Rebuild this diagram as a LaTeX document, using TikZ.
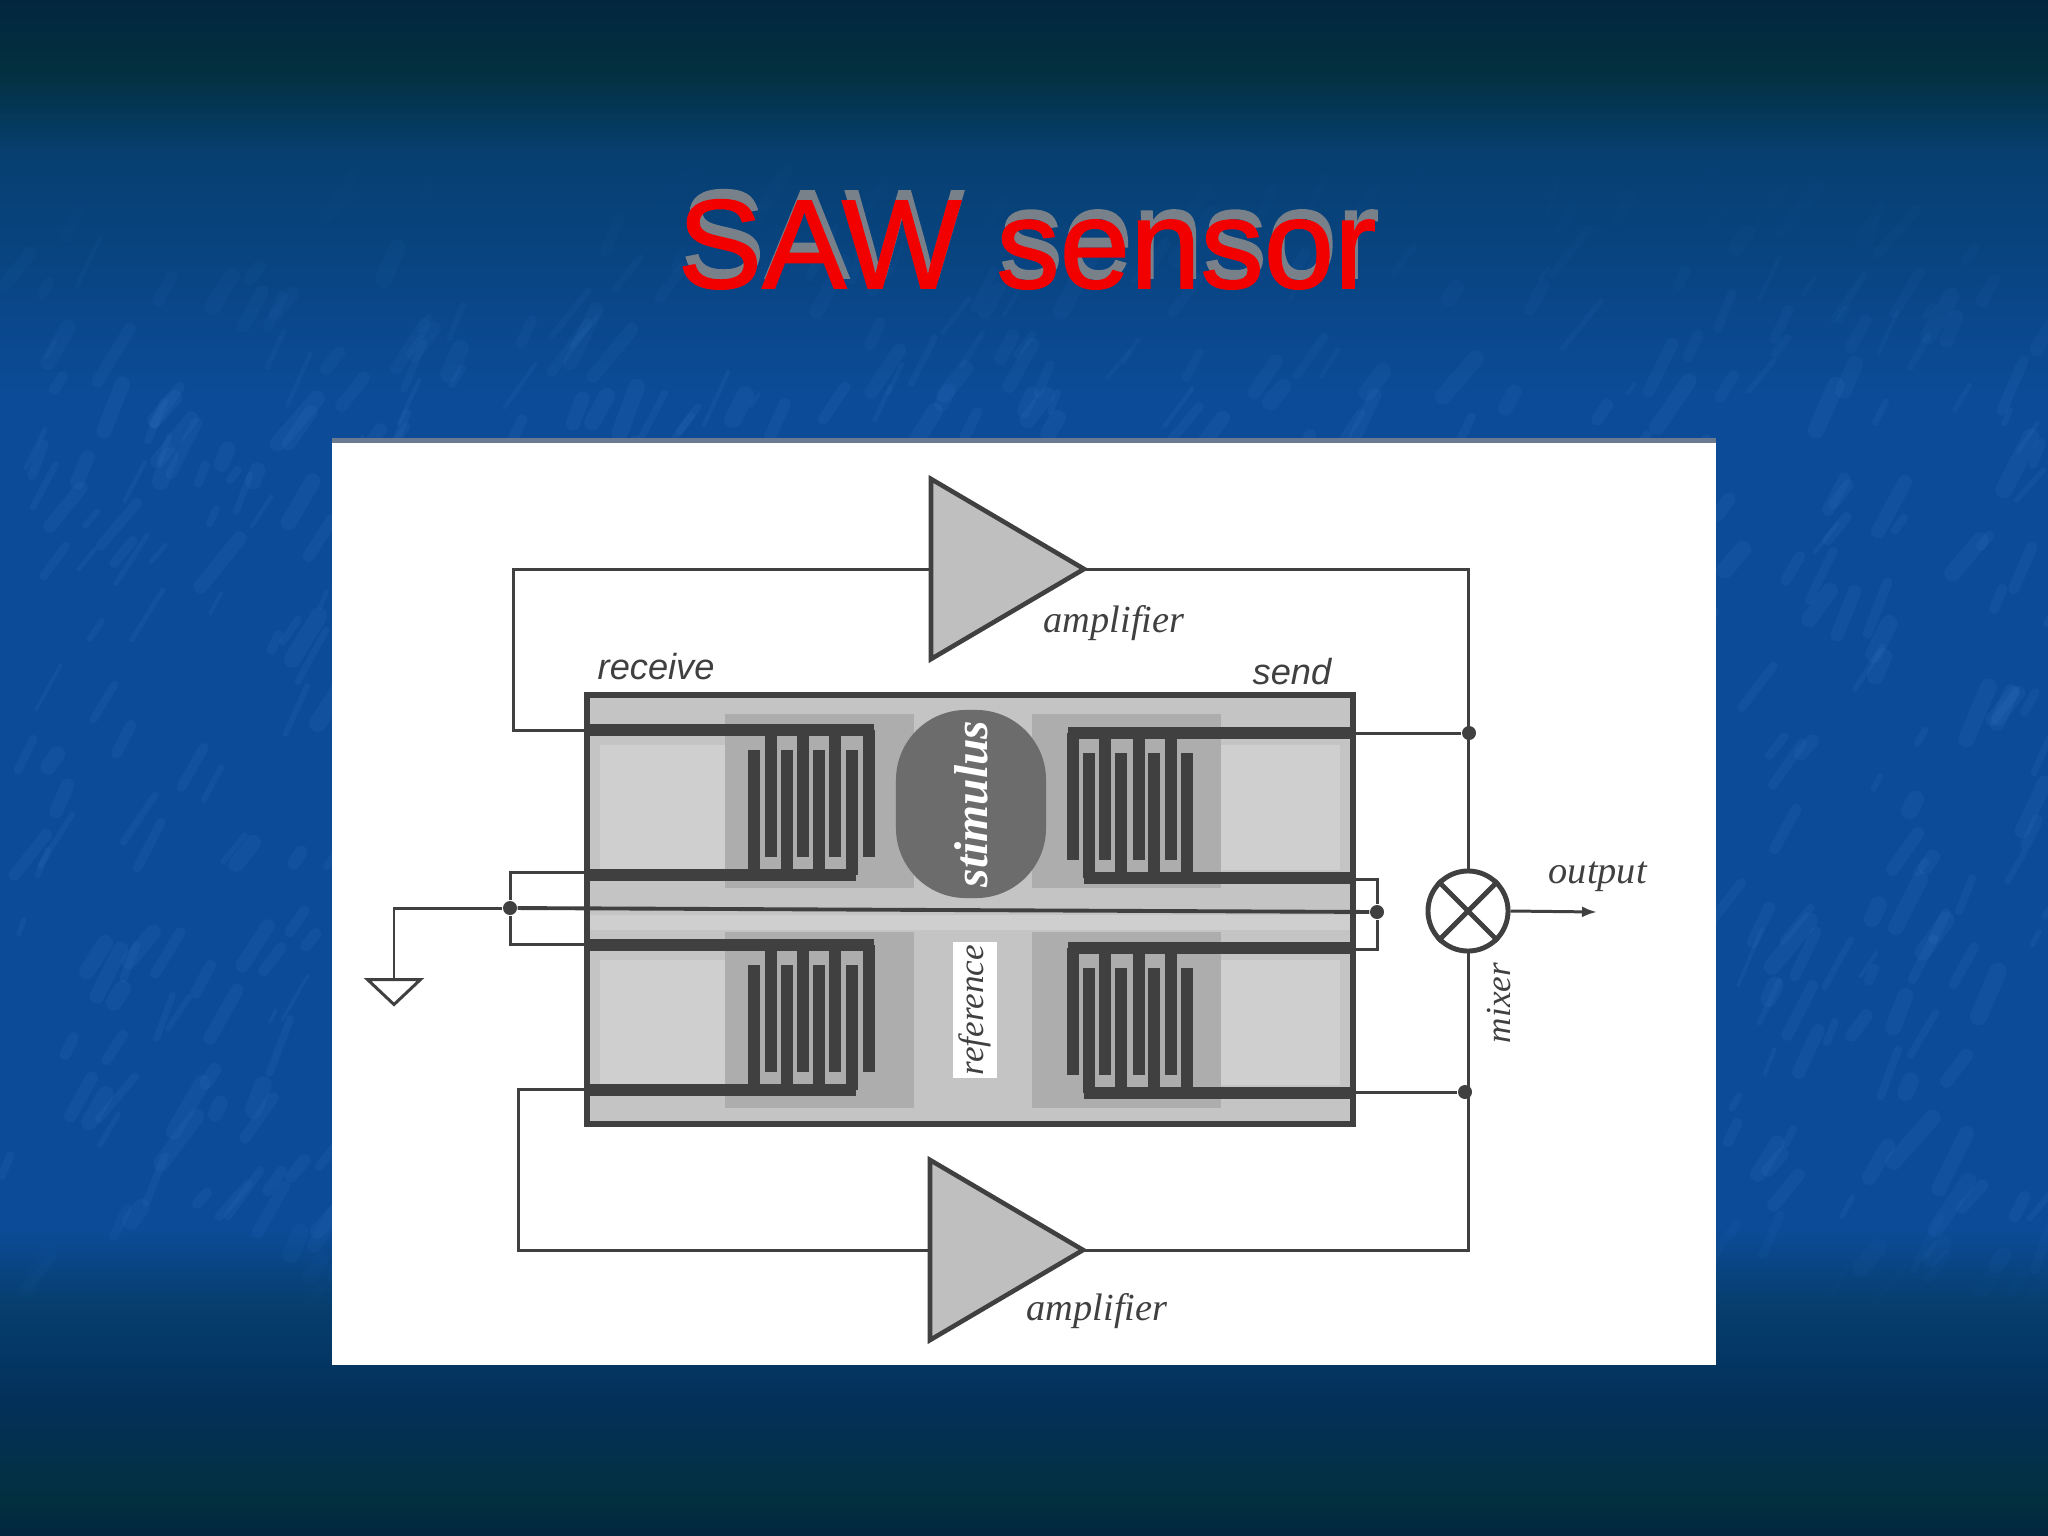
\documentclass[tikz,border=0pt]{standalone}
\usepackage{fontspec}
\setmainfont{Liberation Serif}
\setsansfont{Liberation Sans}
\newfontfamily\titlefont[FakeBold=1.2]{Liberation Sans}
\usetikzlibrary{calc,positioning,arrows.meta,shapes.geometric}

\definecolor{slidemid}{HTML}{0C4B98}
\definecolor{slidetop}{HTML}{02263F}
\definecolor{slideband}{HTML}{03303F}
\definecolor{slidedeep}{HTML}{063F70}
\definecolor{slidelow}{HTML}{03305A}
\definecolor{ink}{HTML}{404040}
\definecolor{chipgray}{HTML}{C4C4C4}
\definecolor{chiplight}{HTML}{CFCFCF}
\definecolor{padgray}{HTML}{ADADAD}
\definecolor{titleshade}{HTML}{78808A}
\definecolor{paneledge}{HTML}{6A7A90}
\definecolor{streak}{HTML}{4A8BD8}

\pgfdeclareverticalshading{slidebg}{100bp}{
  color(0bp)=(slidetop);
  color(25bp)=(slidetop);
  color(26.2bp)=(slideband);
  color(29.4bp)=(slidelow);
  color(32.7bp)=(slidedeep);
  color(35bp)=(slidemid);
  color(62bp)=(slidemid);
  color(70bp)=(slidedeep);
  color(72.7bp)=(slideband);
  color(75bp)=(slidetop);
  color(100bp)=(slidetop)}

\tikzset{
  wire/.style={draw=ink, line width=.85pt},
  bus/.style={draw=ink, line width=3.2pt},
  finger/.style={draw=ink, line width=3.2pt},
  junction/.style={circle, fill=ink, inner sep=0pt, minimum size=.14cm},
  amptri/.style={isosceles triangle, isosceles triangle stretches, draw=ink, fill=gray!50, line width=1.3pt,
    inner sep=0pt, outer sep=0pt, minimum height=1.53cm, minimum width=1.8cm},
  serlabel/.style={inner sep=0pt, text=ink, font=\itshape\fontsize{10.9}{12}\selectfont},
  sanslabel/.style={inner sep=0pt, text=ink, font=\sffamily\itshape\fontsize{10.3}{12}\selectfont},
  pad/.style={fill=padgray, draw=none}
}

\begin{document}
\begin{tikzpicture}[x=.01cm, y=-.01cm]
  \useasboundingbox (0,0) rectangle (2048,1536);
  \fill[shading=slidebg] (0,0) rectangle (2048,1536);

  \pgfmathsetseed{11}
  \foreach \i in {1,...,800} {
    \pgfmathsetmacro{\px}{rnd*2048}
    \pgfmathsetmacro{\py}{170+rnd*1150}
    \pgfmathsetmacro{\fade}{.1*min(1,(\py-170)/260)*min(1,(1320-\py)/110)}
    \pgfmathsetmacro{\wd}{1+rnd*4}
    \pgfmathsetmacro{\ln}{12+rnd*50}
    \pgfmathsetmacro{\ang}{-48-rnd*22}
    \draw[draw=streak, line width=\wd pt, line cap=round, opacity=\fade]
      (\px,\py) -- ++(\ang:\ln);
  }

  \node[anchor=base, inner sep=0pt, text=titleshade, font=\titlefont\fontsize{36}{40}\selectfont]
    (titleshadow) at (1030,278) {SAW sensor};
  \node[anchor=base, inner sep=0pt, text=red!95!black, font=\titlefont\fontsize{36}{40}\selectfont]
    (title) at (1027,288) {SAW sensor};

  \fill[white] (332,443) rectangle (1716,1365);
  \fill[paneledge] (332,438) rectangle (1716,443);

  \fill[chipgray] (587,695) rectangle (1353,1124);
  \fill[chiplight] (600,745) rectangle (725,870);
  \fill[chiplight] (1221,745) rectangle (1340,870);
  \fill[chiplight] (600,960) rectangle (725,1085);
  \fill[chiplight] (1221,960) rectangle (1340,1085);
  \fill[chiplight] (590,915) rectangle (1350,930);
  \fill[pad] (725,714) rectangle (914,888);
  \fill[pad] (1032,714) rectangle (1221,888);
  \fill[pad] (725,932) rectangle (914,1108);
  \fill[pad] (1032,932) rectangle (1221,1108);

  \foreach \ytop/\ybot in {730/875,945/1090} {
    \draw[bus] (587,\ytop) -- (874,\ytop);
    \draw[bus] (587,\ybot) -- (856,\ybot);
    \foreach \fx in {771,803,835,869}
      \draw[finger] (\fx,\ytop) -- (\fx,\ytop+127);
    \foreach \fx in {754,787,819,852}
      \draw[finger] (\fx,\ybot) -- (\fx,\ybot-125);
  }
  \foreach \ytop/\ybot in {733/878,948/1093} {
    \draw[bus] (1068,\ytop) -- (1353,\ytop);
    \draw[bus] (1084,\ybot) -- (1353,\ybot);
    \foreach \fx in {1073,1105,1139,1171}
      \draw[finger] (\fx,\ytop) -- (\fx,\ytop+127);
    \foreach \fx in {1089,1121,1154,1187}
      \draw[finger] (\fx,\ybot) -- (\fx,\ybot-125);
  }
  \node[fill=white, minimum width=.43cm, minimum height=1.35cm, inner sep=0pt] (refbox) at (975,1010) {};
  \node[rotate=90, inner sep=0pt, text=ink, font=\itshape\fontsize{10}{12}\selectfont] (reference) at (975,1010) {reference};
  \node[rotate=90, fill=gray!85!black, rounded corners=.7cm, minimum width=1.88cm, minimum height=1.5cm, inner sep=0pt,
    text=white, font=\bfseries\itshape\fontsize{13.5}{14}\selectfont] (stimulus) at (971,804) {stimulus};
  \draw[draw=ink, line width=1.5pt] (587,695) rectangle (1353,1124);

  \coordinate (recvtop) at (587,730);
  \coordinate (recvmidup) at (587,872);
  \coordinate (recvmiddn) at (587,944);
  \coordinate (recvlow) at (587,1089);
  \coordinate (sendtop) at (1353,733);
  \coordinate (sendmidup) at (1353,879);
  \coordinate (sendmiddn) at (1353,949);
  \coordinate (sendlow) at (1353,1092);
  \coordinate (loopup) at (513,569);
  \coordinate (looplow) at (518,1250);
  \coordinate (outend) at (1597,912);

  \node[amptri, anchor=lower side] (amptop) at (931,569) {};
  \node[amptri, anchor=lower side] (ampbot) at (930,1250) {};
  \node[circle, draw=ink, fill=white, line width=1.4pt, minimum size=.8cm, inner sep=0pt] (mixer) at (1468,911) {};
  \draw[draw=ink, line width=1.4pt] (mixer.45) -- (mixer.225);
  \draw[draw=ink, line width=1.4pt] (mixer.135) -- (mixer.315);
  \node[junction] (jsendtop) at (1469,733) {};
  \node[junction] (jsendlow) at (1465,1092) {};
  \node[junction] (jmidl) at (510,908) {};
  \node[junction] (jmidr) at (1377,912) {};
  \node[isosceles triangle, isosceles triangle stretches, shape border rotate=270, draw=ink, line width=.85pt,
    inner sep=0pt, minimum width=.53cm, minimum height=.25cm, anchor=lower side] (ground) at (394,978) {};

  \draw[wire] (amptop.lower side) -- (loopup) |- (recvtop);
  \draw[wire] (amptop.apex) -| (mixer.north);
  \draw[wire] (ampbot.lower side) -- (looplow) |- (recvlow);
  \draw[wire] (ampbot.apex) -| (mixer.south);
  \draw[wire] (sendtop) -- (jsendtop);
  \draw[wire] (sendlow) -- (jsendlow);
  \draw[wire] (recvmidup) -| (jmidl);
  \draw[wire] (recvmiddn) -| (jmidl);
  \draw[wire] (sendmidup) -| (jmidr);
  \draw[wire] (sendmiddn) -| (jmidr);
  \draw[wire] (jmidl) -| (ground.lower side);
  \draw[draw=ink, line width=1.1pt] (jmidl) -- (jmidr);
  \draw[wire, -{Latex[length=1.5mm,width=1.1mm]}] (mixer.east) -- (outend);

  \node[serlabel, anchor=base west] (amptoplabel) at (1043,632) {amplifier};
  \node[serlabel, anchor=base west] (ampbotlabel) at (1026,1320) {amplifier};
  \node[sanslabel, anchor=base west] (receive) at (597,679) {receive};
  \node[sanslabel, anchor=base west] (send) at (1252,684) {send};
  \node[serlabel, anchor=base west] (output) at (1548,883) {output};
  \node[serlabel, rotate=90, font=\itshape\fontsize{10}{12}\selectfont] (mixerlabel) at (1499,1003) {mixer};
\end{tikzpicture}
\end{document}
